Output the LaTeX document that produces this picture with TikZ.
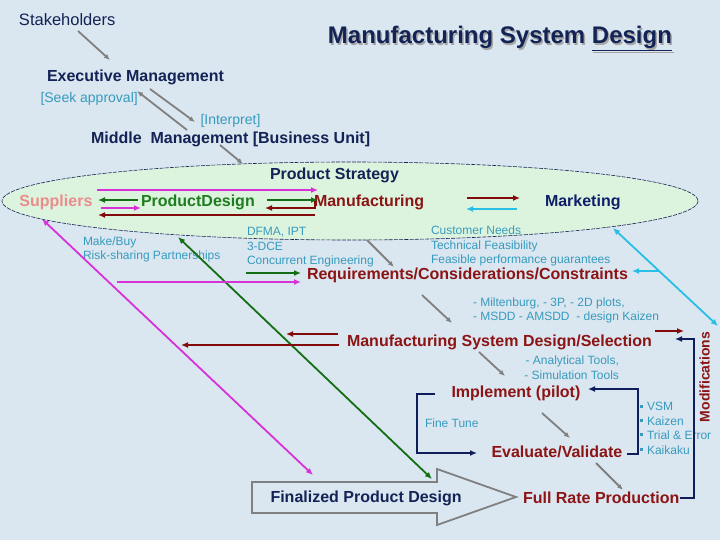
\documentclass[tikz,border=0pt]{standalone}
\usepackage{fontspec}
\setmainfont{Liberation Sans}
\usetikzlibrary{arrows.meta}
\definecolor{bg}{RGB}{218,230,240}
\definecolor{ellfill}{RGB}{220,244,222}
\definecolor{navy}{RGB}{20,35,85}
\definecolor{mktblue}{RGB}{15,30,105}
\definecolor{tealtxt}{RGB}{55,155,190}
\definecolor{dred}{RGB}{140,20,20}
\definecolor{gtxt}{RGB}{30,125,30}
\definecolor{salmon}{RGB}{235,140,140}
\definecolor{magenta2}{RGB}{215,50,215}
\definecolor{green2}{RGB}{20,110,20}
\definecolor{red2}{RGB}{130,10,10}
\definecolor{cyan2}{RGB}{40,190,230}
\definecolor{arrgray}{RGB}{128,128,128}
\definecolor{navyarr}{RGB}{15,30,90}
\tikzset{
  txt/.style={inner sep=0pt, outer sep=0pt},
  bigb/.style={txt, font=\bfseries\fontsize{16}{18}\selectfont},
  smallt/.style={txt, text=tealtxt, font=\fontsize{12}{14}\selectfont},
  midt/.style={txt, text=tealtxt, font=\fontsize{14}{16}\selectfont},
  tip/.style={-{Latex[length=7pt,width=6pt]}},
  tiptwo/.style={{Latex[length=7pt,width=6pt]}-{Latex[length=7pt,width=6pt]}},
  garr/.style={draw=arrgray, line width=1.8pt, -{Latex[length=6pt,width=5pt]}},
  carr/.style={line width=1.8pt},
}
\newcommand{\sqbul}{\rule[3pt]{3pt}{3pt}\hspace{4pt}}
\begin{document}
\begin{tikzpicture}[x=1pt,y=-1pt]
\fill[bg] (0,0) rectangle (720,540);
\useasboundingbox (0,0) rectangle (720,540);

% ellipse
\draw[fill=ellfill, draw=navy, line width=0.6pt, dash pattern=on 4pt off 1.2pt] (350,201) ellipse [x radius=348, y radius=39];

% title and header texts
\node[txt, anchor=base west, text=navy, font=\fontsize{16.5}{18}\selectfont] (stake) at (19,26) {Stakeholders};
\node[txt, anchor=base east, text=arrgray!70, font=\bfseries\fontsize{24}{26}\selectfont] (titleshadow) at (673.5,45.5) {Manufacturing System \underline{Design}};
\node[txt, anchor=base east, text=navy, font=\bfseries\fontsize{24}{26}\selectfont] (title) at (672,44) {Manufacturing System \underline{Design}};
\node[bigb, anchor=base west, text=navy] (exec) at (47,82) {Executive Management};
\node[midt, anchor=base west] (seek) at (40.5,102.5) {[Seek approval]};
\node[midt, anchor=base west] (interp) at (200.5,124.5) {[Interpret]};
\node[bigb, anchor=base west, text=navy] (mid) at (91,144) {Middle\ \ Management [Business Unit]};
\node[bigb, anchor=base west, text=navy] (ps) at (270,179.5) {Product Strategy};

% ellipse row
\node[bigb, anchor=base west, text=salmon] (sup) at (19.5,207) {Suppliers};
\node[bigb, anchor=base west, text=gtxt] (pd) at (141,207) {ProductDesign};
\node[bigb, anchor=base west, text=dred] (mfg) at (314,207) {Manufacturing};
\node[bigb, anchor=base west, text=mktblue] (mkt) at (545,207) {Marketing};

% teal notes
\node[smallt, anchor=base west] (mb1) at (83,245) {Make/Buy};
\node[smallt, anchor=base west] (mb2) at (83,259) {Risk-sharing Partnerships};
\node[smallt, anchor=base west] (df1) at (247,235.7) {DFMA, IPT};
\node[smallt, anchor=base west] (df2) at (247,250) {3-DCE};
\node[smallt, anchor=base west] (df3) at (247,264) {Concurrent Engineering};
\node[smallt, anchor=base west] (cn1) at (431,234) {Customer Needs};
\node[smallt, anchor=base west] (cn2) at (431,249) {Technical Feasibility};
\node[smallt, anchor=base west] (cn3) at (431,263) {Feasible performance guarantees};
\node[bigb, anchor=base west, text=dred] (req) at (307,279) {Requirements/Considerations/Constraints};
\node[smallt, anchor=base west] (mi1) at (473,306.7) {- Miltenburg, - 3P, - 2D plots,};
\node[smallt, anchor=base west] (mi2) at (473,320.7) {- MSDD - AMSDD\ \ - design Kaizen};
\node[bigb, anchor=base west, text=dred] (msd) at (347,346.7) {Manufacturing System Design/Selection};
\node[smallt, anchor=base east] (an1) at (619,364.3) {- Analytical Tools,};
\node[smallt, anchor=base east] (an2) at (619,379) {- Simulation Tools};
\node[bigb, anchor=base west, text=dred] (impl) at (451.5,397.3) {Implement (pilot)};
\node[smallt, anchor=base west] (fine) at (425,427.7) {Fine Tune};
\node[bigb, anchor=base west, text=dred] (eval) at (491.5,457.7) {Evaluate/Validate};
\node[smallt, anchor=base west] (b1) at (640,410.7) {\sqbul VSM};
\node[smallt, anchor=base west] (b2) at (640,425) {\sqbul Kaizen};
\node[smallt, anchor=base west] (b3) at (640,439.3) {\sqbul Trial \& Error};
\node[smallt, anchor=base west] (b4) at (640,454) {\sqbul Kaikaku};
\node[bigb, anchor=base west, text=dred] (frp) at (523,503.3) {Full Rate Production};
\node[txt, rotate=90, text=dred, font=\bfseries\fontsize{14}{16}\selectfont] (modif) at (704.5,377) {Modifications};

% big outlined arrow
\draw[draw=arrgray, line width=1.8pt, line join=miter] (252,482) -- (437,482) -- (437,469) -- (516,497) -- (437,525) -- (437,513) -- (252,513) -- cycle;
\node[bigb, anchor=base west, text=navy] (fpd) at (270.5,502.7) {Finalized Product Design};

% gray flow arrows
\coordinate (g1a) at (78,31);   \coordinate (g1b) at (110,60);
\coordinate (g2a) at (150,89);  \coordinate (g2b) at (195,122);
\coordinate (g3a) at (187,130); \coordinate (g3b) at (137,91);
\coordinate (g4a) at (220,145); \coordinate (g4b) at (243,164);
\coordinate (g5a) at (367,240); \coordinate (g5b) at (394,267);
\coordinate (g6a) at (422,295); \coordinate (g6b) at (452,323);
\coordinate (g7a) at (479,352); \coordinate (g7b) at (505,376);
\coordinate (g8a) at (542,413); \coordinate (g8b) at (570,438);
\coordinate (g9a) at (596,463); \coordinate (g9b) at (623,490);
\foreach \i in {1,...,9} {\draw[garr] (g\i a) -- (g\i b);}

% arrows inside the ellipse
\coordinate (m1a) at (97,190);  \coordinate (m1b) at (318,190);
\draw[carr, draw=magenta2, tip] (m1a) -- (m1b);
\coordinate (gr1a) at (138,200); \coordinate (gr1b) at (98,200);
\draw[carr, draw=green2, tip] (gr1a) -- (gr1b);
\coordinate (m2a) at (101,208); \coordinate (m2b) at (141,208);
\draw[carr, draw=magenta2, tip] (m2a) -- (m2b);
\coordinate (r1a) at (315,215); \coordinate (r1b) at (98,215);
\draw[carr, draw=red2, tip] (r1a) -- (r1b);
\coordinate (gr2a) at (267,200); \coordinate (gr2b) at (318,200);
\draw[carr, draw=green2, tip] (gr2a) -- (gr2b);
\coordinate (r2a) at (315,201); \coordinate (r2c) at (315,208); \coordinate (r2b) at (265,208);
\draw[carr, draw=red2, tip] (r2a) -- (r2c) -- (r2b);
\coordinate (r3a) at (467,198); \coordinate (r3b) at (520,198);
\draw[carr, draw=red2, tip] (r3a) -- (r3b);
\coordinate (c1a) at (517,209); \coordinate (c1b) at (466,209);
\draw[carr, draw=cyan2, tip] (c1a) -- (c1b);

% long diagonals
\coordinate (md1) at (42,219);  \coordinate (md2) at (313,475);
\draw[carr, draw=magenta2, tiptwo] (md1) -- (md2);
\coordinate (gd1) at (178,237); \coordinate (gd2) at (432,479);
\draw[carr, draw=green2, tiptwo] (gd1) -- (gd2);
\coordinate (cd1) at (613,228); \coordinate (cd2) at (718,326);
\draw[carr, draw=cyan2, tiptwo] (cd1) -- (cd2);
\coordinate (cb1) at (660,271); \coordinate (cb2) at (632,271);
\draw[carr, draw=cyan2, tip] (cb1) -- (cb2);

% arrows towards requirements
\coordinate (gq1) at (246,273); \coordinate (gq2) at (301,273);
\draw[carr, draw=green2, tip] (gq1) -- (gq2);
\coordinate (mq1) at (117,282); \coordinate (mq2) at (301,282);
\draw[carr, draw=magenta2, tip] (mq1) -- (mq2);

% arrows from manufacturing system design
\coordinate (rs1) at (338,334); \coordinate (rs2) at (286,334);
\draw[carr, draw=red2, tip] (rs1) -- (rs2);
\coordinate (rs3) at (339,345); \coordinate (rs4) at (181,345);
\draw[carr, draw=red2, tip] (rs3) -- (rs4);
\coordinate (rs5) at (655,331); \coordinate (rs6) at (684,331);
\draw[carr, draw=red2, tip] (rs5) -- (rs6);

% navy feedback loops
\coordinate (n1a) at (680,498); \coordinate (n1b) at (694,498); \coordinate (n1c) at (694,339); \coordinate (n1d) at (675,339);
\draw[carr, draw=navyarr, tip] (n1a) -- (n1b) -- (n1c) -- (n1d);
\coordinate (n2a) at (627,454); \coordinate (n2b) at (638,454); \coordinate (n2c) at (638,389); \coordinate (n2d) at (588,389);
\draw[carr, draw=navyarr, tip] (n2a) -- (n2b) -- (n2c) -- (n2d);
\coordinate (n3a) at (435,394); \coordinate (n3b) at (417,394); \coordinate (n3c) at (417,453); \coordinate (n3d) at (477,453);
\draw[carr, draw=navyarr, tip] (n3a) -- (n3b) -- (n3c) -- (n3d);
\end{tikzpicture}
\end{document}
